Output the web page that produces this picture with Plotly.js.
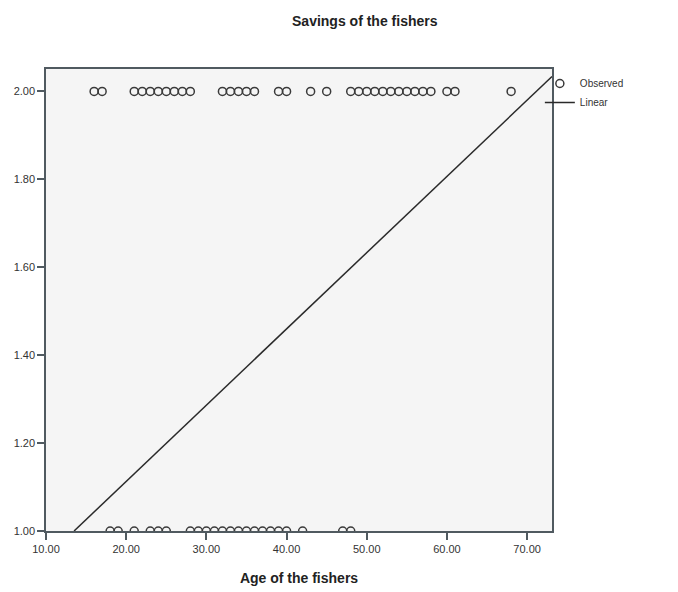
<!DOCTYPE html>
<html>
<head>
<meta charset="utf-8">
<script src="https://cdn.plot.ly/plotly-3.0.1.min.js"></script>
<style>
  html, body { margin: 0; padding: 0; background: #ffffff; }
  #chart { width: 678px; height: 592px; }
</style>
</head>
<body>
<div id="chart"></div>
<script>
// Observed ages of fishers by savings group
const agesSavings2 = [16, 17, 21, 22, 23, 24, 25, 26, 27, 28, 32, 33, 34, 35, 36, 39, 40, 43, 45,
  48, 49, 50, 51, 52, 53, 54, 55, 56, 57, 58, 60, 61, 68];
const agesSavings1 = [18, 19, 21, 23, 24, 25, 28, 29, 30, 31, 32, 33, 34, 35, 36, 37, 38, 39, 40, 42, 47, 48];
const savingsHigh = 2.0;
const savingsLow = 1.0;

// Linear fit line endpoints
const linearX = [13.5, 73.1];
const linearY = [1.0, 2.034];

// Axis tick labels
const xTicks = [10, 20, 30, 40, 50, 60, 70];
const yTicks = [1.0, 1.2, 1.4, 1.6, 1.8, 2.0];

const obsX = agesSavings2.concat(agesSavings1);
const obsY = agesSavings2.map(() => savingsHigh).concat(agesSavings1.map(() => savingsLow));

const traces = [
  {
    type: 'scatter', mode: 'markers', name: 'Observed',
    x: obsX, y: obsY,
    marker: { symbol: 'circle-open', size: 8, color: '#3a3a3a', line: { width: 1.5, color: '#3a3a3a' } },
    hoverinfo: 'x+y'
  },
  {
    type: 'scatter', mode: 'lines', name: 'Linear',
    x: linearX, y: linearY,
    line: { color: '#2a2a2a', width: 1.5 }
  }
];

const axisCommon = {
  showline: true, mirror: true, linecolor: '#505a60', linewidth: 1.5,
  showgrid: false, zeroline: false,
  ticks: 'outside', ticklen: 7, tickwidth: 1.5, tickcolor: '#505a60',
  tickfont: { family: 'Liberation Sans, Arial, sans-serif', size: 11, color: '#333' },
  tickformat: '.2f'
};

const layout = {
  width: 678, height: 592,
  paper_bgcolor: '#ffffff', plot_bgcolor: '#f5f5f5',
  margin: { l: 46, r: 126, t: 69, b: 61 },
  font: { family: 'Liberation Sans, Arial, sans-serif', color: '#222' },
  title: {
    text: '<b>Savings of the fishers</b>',
    font: { size: 14, color: '#222' },
    xref: 'container', x: 0.538, xanchor: 'center',
    yref: 'container', y: 0.964, yanchor: 'middle'
  },
  xaxis: Object.assign({}, axisCommon, {
    range: [10, 73.1], tickvals: xTicks,
    title: { text: '<b>Age of the fishers</b>', font: { size: 14, color: '#222' }, standoff: 19 }
  }),
  yaxis: Object.assign({}, axisCommon, {
    range: [1.0, 2.051], tickvals: yTicks
  }),
  showlegend: true,
  legend: {
    x: 0.976, xanchor: 'left', y: 1.0, yanchor: 'top',
    bgcolor: 'rgba(0,0,0,0)',
    font: { size: 10, color: '#333' },
    tracegroupgap: 0, itemwidth: 30
  }
};

Plotly.newPlot('chart', traces, layout, { displayModeBar: false, staticPlot: false });
</script>
</body>
</html>
